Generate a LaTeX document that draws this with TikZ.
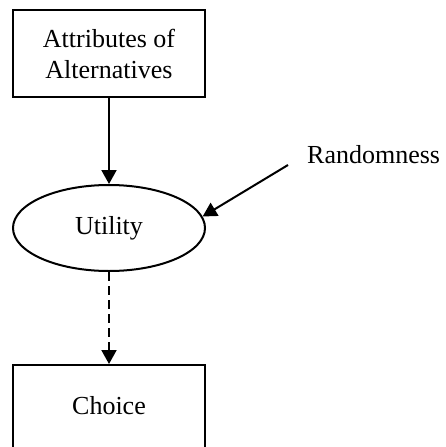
\documentclass[tikz,border=0pt]{standalone}
\usepackage{fontspec}
\setmainfont{Liberation Serif}
\usetikzlibrary{arrows.meta,shapes.geometric}
\begin{document}
\begin{tikzpicture}[x=1pt,y=-1pt,
  lbl/.style={font=\fontsize{26}{31}\selectfont, align=center, inner sep=0pt},
  box/.style={draw, line width=2pt, minimum width=192pt, inner sep=0pt},
  conn/.style={line width=2pt, -{Triangle[length=14pt,width=15pt]}}]
  \useasboundingbox (0,0) rectangle (445,447);
  % blocks
  \node[box, lbl, minimum height=87pt] (attr) at (109,53.5) {Attributes of\\Alternatives};
  \node[draw, line width=2pt, ellipse, minimum width=192pt, minimum height=86pt, inner sep=0pt] (util) at (109,228) {};
  \node[lbl] (utext) at (109,228) {Utility};
  \node[box, minimum height=105pt] (choice) at (109,417.5) {};
  \node[lbl] (ctext) at (109,406) {Choice};
  \node[lbl, anchor=west] (rand) at (307,155) {Randomness};
  \coordinate (rstart) at (288,165);
  % connectors
  \draw[conn] (attr.south) -- (util.north);
  \draw[conn, dash pattern=on 9pt off 5pt] (util.south) -- (choice.north);
  \draw[conn] (rstart) -- (util.7);
\end{tikzpicture}
\end{document}
